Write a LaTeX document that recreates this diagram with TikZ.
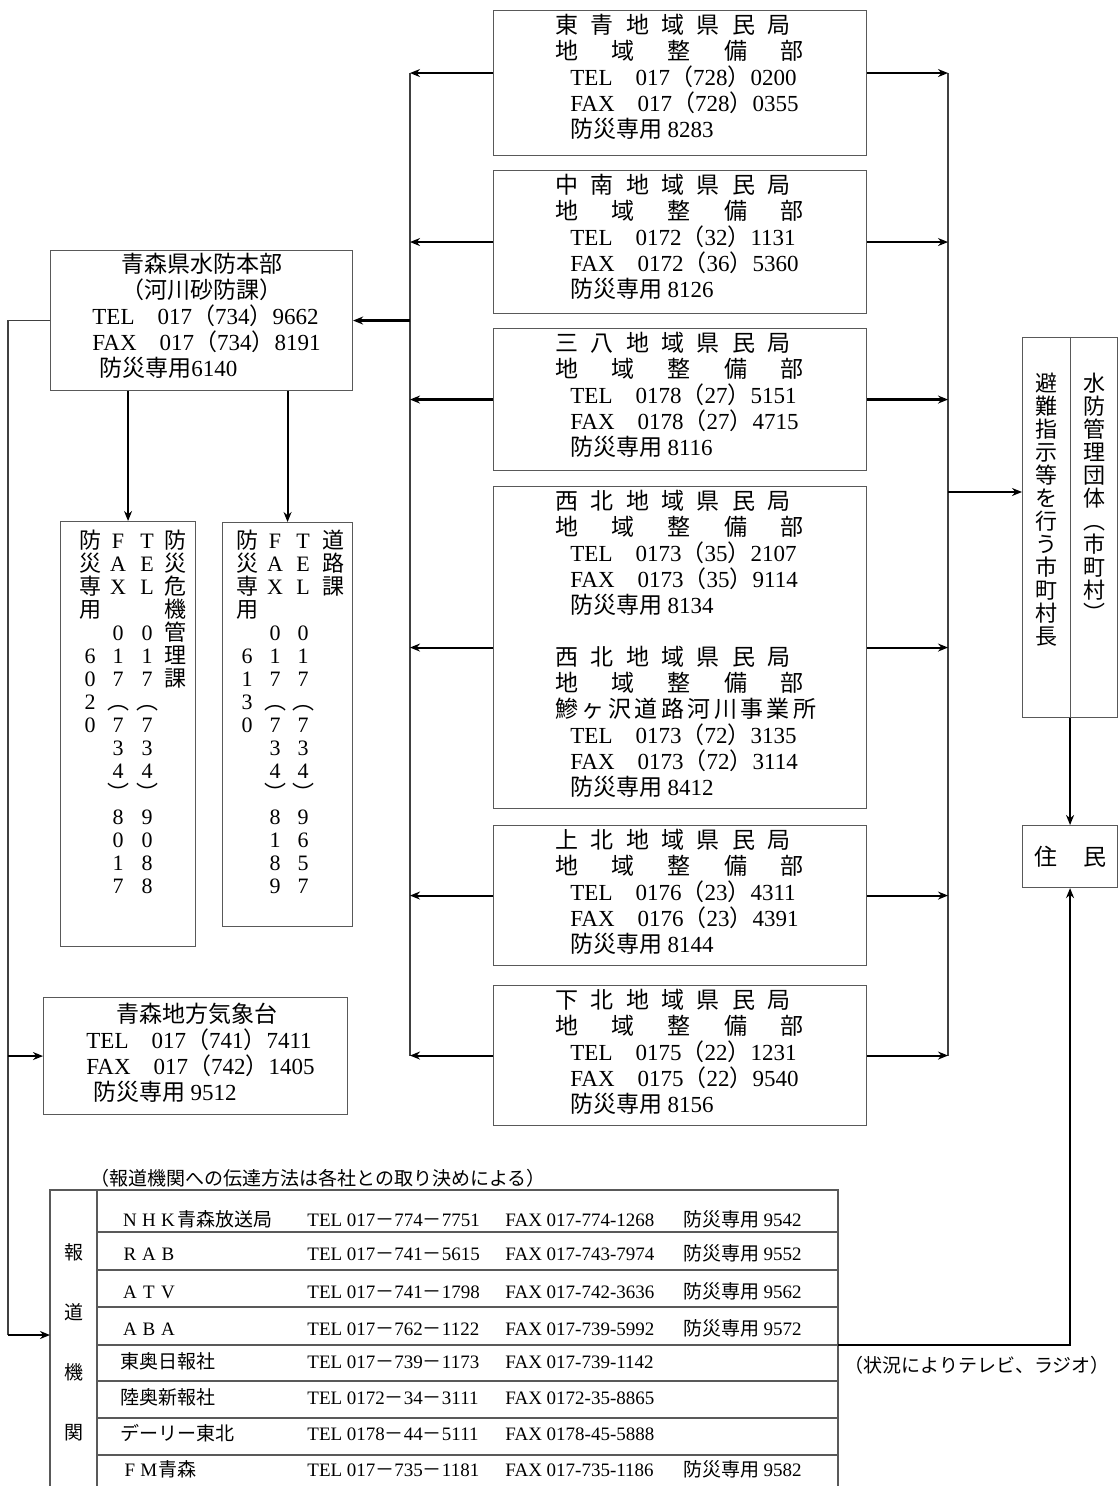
\documentclass[tikz,border=0pt]{standalone}
\usepackage{fontspec}
\usetikzlibrary{arrows.meta}
\setmainfont{Liberation Serif}
\newfontfamily\jpf{Noto Sans CJK JP}
\newfontfamily\enf{Liberation Serif}
% Japanese characters switch to the CJK font by themselves
\XeTeXinterchartokenstate=1
\ifdefined\newXeTeXintercharclass \newXeTeXintercharclass\jpclass \else \chardef\jpclass=7 \fi
\newcount\jpcc
\newcommand\jprange[2]{\jpcc=#1\relax
  \loop\XeTeXcharclass\jpcc=\jpclass\relax
  \ifnum\jpcc<#2\relax\advance\jpcc by 1\relax\repeat}
\jprange{"3000}{"30FF}
\jprange{"4E00}{"9FFF}
\jprange{"FE30}{"FE4F}
\jprange{"FF00}{"FFEF}
\XeTeXinterchartoks 0 \jpclass = {\jpf}
\XeTeXinterchartoks 4095 \jpclass = {\jpf}
\XeTeXinterchartoks \jpclass 0 = {\enf}
\XeTeXinterchartoks 4095 0 = {\enf}

\newcommand\boxfont{\fontsize{11.5}{13}\selectfont}
\newcommand\tabfont{\fontsize{9.5}{11}\selectfont}
\newcommand\vfont{\fontsize{11}{11.5}\selectfont\lineskiplimit=-\maxdimen}
\newcommand\tp{\rule{0pt}{10.5pt}}
\newcommand\zw[1]{\makebox[1em]{#1}}
\newcommand\regtext[4]{\tp\makebox[117.5pt][s]{#1}\\
  \makebox[124pt][s]{地 域 整 備 部}\\
  \hspace*{7.5pt}TEL\quad #2\\
  \hspace*{7.5pt}FAX\quad #3\\
  \hspace*{7.5pt}防災専用 #4}

\begin{document}
\begin{tikzpicture}[x=0.5pt,y=-0.5pt,>={Stealth[length=5pt,width=4pt]},
    frame/.style={draw=black!65,line width=0.55pt},
    box/.style={frame,inner sep=0pt,anchor=north west},
    region/.style={box,minimum width=186.5pt},
    txt/.style={inner sep=0pt,anchor=north west,align=left,font=\boxfont},
    vcol/.style={inner sep=0pt,anchor=north,align=center,font=\vfont},
    cell/.style={inner sep=0pt,anchor=base west,font=\tabfont},
    arr/.style={->,line width=1.05pt},
    bus/.style={line width=0.6pt,draw=black!75}]
    \useasboundingbox (0,0) rectangle (1119,1486);
    \coordinate (lb) at (8,0);
    \coordinate (lbus) at (410,0);
    \coordinate (rbus) at (948,0);

    % 水防本部
    \node[box,minimum width=151pt,minimum height=70pt] (hq) at (50,250) {};
    \node[txt] (hq-t) at ([xshift=21pt,yshift=-0.5pt]hq.north west)
        {\tp\makebox[110pt]{青森県水防本部}\\ \makebox[110pt]{（河川砂防課）}\\
         TEL\quad 017（734）9662\\ FAX\quad 017（734）8191\\ \hspace*{3.5pt}防災専用6140};

    % 防災危機管理課, 道路課
    \node[box,minimum width=67.5pt,minimum height=212.5pt] (kiki) at (60,521) {};
    \node[vcol] (kiki-name) at (175,527) {\tp 防\\災\\危\\機\\管\\理\\課};
    \node[vcol] (kiki-tel) at (147,527) {\tp T\\E\\L\\~\\0\\1\\7\\︵\\7\\3\\4\\︶\\9\\0\\8\\8};
    \node[vcol] (kiki-fax) at (118,527) {\tp F\\A\\X\\~\\0\\1\\7\\︵\\7\\3\\4\\︶\\8\\0\\1\\7};
    \node[vcol] (kiki-bs) at (90,527) {\tp 防\\災\\専\\用\\~\\6\\0\\2\\0};
    \node[box,minimum width=65pt,minimum height=202pt] (doro) at (222,522) {};
    \node[vcol] (doro-name) at (333,527) {\tp 道\\路\\課};
    \node[vcol] (doro-tel) at (303,527) {\tp T\\E\\L\\~\\0\\1\\7\\︵\\7\\3\\4\\︶\\9\\6\\5\\7};
    \node[vcol] (doro-fax) at (275,527) {\tp F\\A\\X\\~\\0\\1\\7\\︵\\7\\3\\4\\︶\\8\\1\\8\\9};
    \node[vcol] (doro-bs) at (247,527) {\tp 防\\災\\専\\用\\~\\6\\1\\3\\0};
    \draw[arr] (hq.south -| kiki.north) -- (kiki.north);
    \draw[arr] (hq.south -| doro.north) -- (doro.north);

    % 気象台
    \node[box,minimum width=152pt,minimum height=58.5pt] (kisho) at (43,997) {};
    \node[txt] (kisho-t) at ([xshift=21.5pt,yshift=-1.8pt]kisho.north west)
        {\tp\makebox[110.5pt]{青森地方気象台}\\ TEL\quad 017（741）7411\\
         FAX\quad 017（742）1405\\ \hspace*{3.5pt}防災専用 9512};

    % 地域県民局
    \node[region,minimum height=72.5pt] (toaomori) at (493,10) {};
    \node[txt] (toaomori-t) at ([xshift=31pt,yshift=-1pt]toaomori.north west)
        {\regtext{東 青 地 域 県 民 局}{017（728）0200}{017（728）0355}{8283}};
    \node[region,minimum height=71.5pt] (chunan) at (493,170) {};
    \node[txt] (chunan-t) at ([xshift=31pt,yshift=-1pt]chunan.north west)
        {\regtext{中 南 地 域 県 民 局}{0172（32）1131}{0172（36）5360}{8126}};
    \node[region,minimum height=71pt] (sanpachi) at (493,328) {};
    \node[txt] (sanpachi-t) at ([xshift=31pt,yshift=-1pt]sanpachi.north west)
        {\regtext{三 八 地 域 県 民 局}{0178（27）5151}{0178（27）4715}{8116}};
    \node[region,minimum height=161pt] (seihoku) at (493,486) {};
    \node[txt] (seihoku-t) at ([xshift=31pt,yshift=-1pt]seihoku.north west)
        {\regtext{西 北 地 域 県 民 局}{0173（35）2107}{0173（35）9114}{8134}\\
         ~\\
         \makebox[117.5pt][s]{西 北 地 域 県 民 局}\\
         \makebox[124pt][s]{地 域 整 備 部}\\
         \makebox[123pt][s]{鰺 ヶ 沢 道 路 河 川 事 業 所}\\
         \hspace*{7.5pt}TEL\quad 0173（72）3135\\
         \hspace*{7.5pt}FAX\quad 0173（72）3114\\
         \hspace*{7.5pt}防災専用 8412};
    \node[region,minimum height=70pt] (kamikita) at (493,825) {};
    \node[txt] (kamikita-t) at ([xshift=31pt,yshift=-1pt]kamikita.north west)
        {\regtext{上 北 地 域 県 民 局}{0176（23）4311}{0176（23）4391}{8144}};
    \node[region,minimum height=70pt] (shimokita) at (493,985) {};
    \node[txt] (shimokita-t) at ([xshift=31pt,yshift=-1pt]shimokita.north west)
        {\regtext{下 北 地 域 県 民 局}{0175（22）1231}{0175（22）9540}{8156}};

    % both buses
    \coordinate (ta-w) at ([yshift=5pt]toaomori.west);
    \coordinate (ta-e) at ([yshift=5pt]toaomori.east);
    \draw[bus] (ta-w -| lbus) -- (shimokita.west -| lbus);
    \draw[bus] (ta-e -| rbus) -- (shimokita.east -| rbus);
    \draw[arr] (ta-w) -- (ta-w -| lbus);
    \draw[arr] (ta-e) -- (ta-e -| rbus);
    \foreach \r in {chunan,sanpachi,seihoku,kamikita,shimokita} {
        \draw[arr] (\r.west) -- (\r.west -| lbus);
        \draw[arr] (\r.east) -- (\r.east -| rbus);
    }
    \draw[arr] (hq.east -| lbus) -- (hq.east);

    % 水防管理団体, 住民
    \node[box,minimum width=47.5pt,minimum height=190pt] (suibo) at (1022,337) {};
    \draw[frame] (suibo.north) -- (suibo.south);
    \node[vcol] (suibo-l) at (1046,370) {\tp 避\\難\\指\\示\\等\\を\\行\\う\\市\\町\\村\\長};
    \node[vcol] (suibo-r) at (1094,370) {\tp 水\\防\\管\\理\\団\\体\\︵\\市\\町\\村\\︶};
    \coordinate (sb-in) at (948,492);
    \draw[arr] (sb-in) -- (sb-in -| suibo.west);
    \node[box,minimum width=47.5pt,minimum height=31pt,font=\boxfont] (juumin) at (1022,825)
        {\makebox[36pt][s]{住 民}};
    \draw[arr] (suibo.south) -- (juumin.north);

    % 報道機関
    \coordinate (media) at (50,1335);
    \coordinate (mediaR) at (838,1345);
    \node[cell,anchor=west] (houdo-note) at (90,1178) {（報道機関への伝達方法は各社との取り決めによる）};
    \draw[frame] (50,1486) -- (50,1190) -- (838,1190) -- (838,1486);
    \draw[frame] (97,1190) -- (97,1486);
    \foreach \y in {1232,1270,1307,1345,1381,1418,1455}
        \draw[frame] (97,\y) -- (838,\y);
    \node[inner sep=0pt,align=center,font={\fontsize{9.5}{30}\selectfont}] (houdo) at (74,1342) {報\\道\\機\\関};
    \foreach \y/\nm/\tel/\fax [count=\i] in {
        1226/{\zw{N}\zw{H}\zw{K}青森放送局}/{017－774－7751}/{017-774-1268},
        1260/{\zw{R}\zw{A}\zw{B}}/{017－741－5615}/{017-743-7974},
        1298/{\zw{A}\zw{T}\zw{V}}/{017－741－1798}/{017-742-3636},
        1335/{\zw{A}\zw{B}\zw{A}}/{017－762－1122}/{017-739-5992},
        1368/{東奥日報社}/{017－739－1173}/{017-739-1142},
        1404/{陸奥新報社}/{0172－34－3111}/{0172-35-8865},
        1440/{デーリー東北}/{0178－44－5111}/{0178-45-5888},
        1476/{\zw{F}\zw{M}青森}/{017－735－1181}/{017-735-1186}} {
        \node[cell] (name-\i) at (120,\y) {\nm};
        \node[cell] (tel-\i) at (307,\y) {TEL \tel};
        \node[cell] (fax-\i) at (505,\y) {FAX \fax};
    }
    \foreach \y/\bs in {1226/9542,1260/9552,1298/9562,1335/9572,1476/9582}
        \node[cell] (bousai-\bs) at (683,\y) {防災専用 \bs};

    % left line to 気象台 and 報道機関
    \draw[bus] (hq.west) -- (hq.west -| lb) -- (media -| lb);
    \draw[arr] (kisho.west -| lb) -- (kisho.west);
    \draw[arr] (media -| lb) -- (media);
    % 報道機関 to 住民
    \draw[arr] (mediaR) -| (juumin.south);
    \node[cell,anchor=center] (jokyo) at (977,1365) {（状況によりテレビ、ラジオ）};
\end{tikzpicture}
\end{document}
